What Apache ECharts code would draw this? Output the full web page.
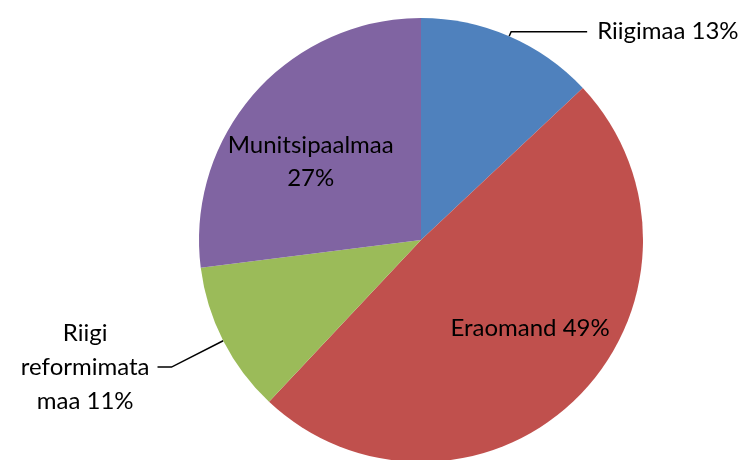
<!DOCTYPE html>
<html>
<head>
<meta charset="utf-8">
<script src="https://cdn.jsdelivr.net/npm/echarts@6/dist/echarts.min.js"></script>
<style>
  html, body { margin: 0; padding: 0; background: #fff; }
  #chart { width: 745px; height: 460px; }
</style>
</head>
<body>
<div id="chart"></div>
<script>
const categories = ['Riigimaa', 'Eraomand', 'Riigi reformimata maa', 'Munitsipaalmaa'];
const shares = [13, 49, 11, 27];
const colors = ['#4F81BD', '#C0504D', '#9BBB59', '#8064A2'];
// which slices get an outside label (with leader line) vs an inside one
const outsideLabels = [true, false, true, false];

const chart = echarts.init(document.getElementById('chart'));
const font = { fontFamily: 'Lato', fontSize: 24, color: '#000' };

const mainData = categories.map((name, i) => {
  const item = { name, value: shares[i], itemStyle: { color: colors[i] } };
  if (!outsideLabels[i]) {
    item.label = { show: false };
    item.labelLine = { show: false };
  }
  return item;
});
// Riigimaa: line runs right, text sits a bit higher
mainData[0].label = {
  show: true,
  formatter: '{b} {d}%',
  padding: [0, 0, 14, 0],
  distanceToLabelLine: 10
};
mainData[0].labelLine = { show: true, length: 5, length2: 76 };
// Riigi reformimata maa: three centred lines on the left
mainData[2].label = {
  show: true,
  formatter: '{c|Riigi}\n{c|reformimata}\n{c|maa 11%}',
  distanceToLabelLine: 8,
  rich: { c: { align: 'center', fontFamily: 'Lato', fontSize: 24, color: '#000', lineHeight: 34 } }
};
mainData[2].labelLine = { show: true, length: 58, length2: 14 };

const insideData = categories.map((name, i) => ({
  name,
  value: shares[i],
  label: outsideLabels[i] ? { show: false } : { show: true }
}));
insideData[1].label.formatter = '{b} {d}%';
insideData[3].label.formatter = '{b}\n{d}%';
// small nudges for the inside labels
const insideShift = [[0, 0], [8, -13], [0, 0], [-3, 16]];

chart.setOption({
  animation: false,
  series: [
    {
      type: 'pie',
      center: [421, 240],
      radius: 222,
      startAngle: 90,
      clockwise: true,
      avoidLabelOverlap: false,
      data: mainData,
      label: Object.assign({ position: 'outside' }, font),
      labelLine: { lineStyle: { color: '#000', width: 1.5 }, smooth: false },
      emphasis: { disabled: true }
    },
    {
      // transparent ring only used to place the inside labels further out
      type: 'pie',
      center: [421, 240],
      radius: [60, 220],
      startAngle: 90,
      silent: true,
      data: insideData,
      itemStyle: { color: 'rgba(0,0,0,0)' },
      label: Object.assign({ position: 'inside', lineHeight: 33 }, font),
      labelLine: { show: false },
      labelLayout: p => ({ dx: insideShift[p.dataIndex][0], dy: insideShift[p.dataIndex][1] }),
      emphasis: { disabled: true }
    }
  ]
});
</script>
</body>
</html>
